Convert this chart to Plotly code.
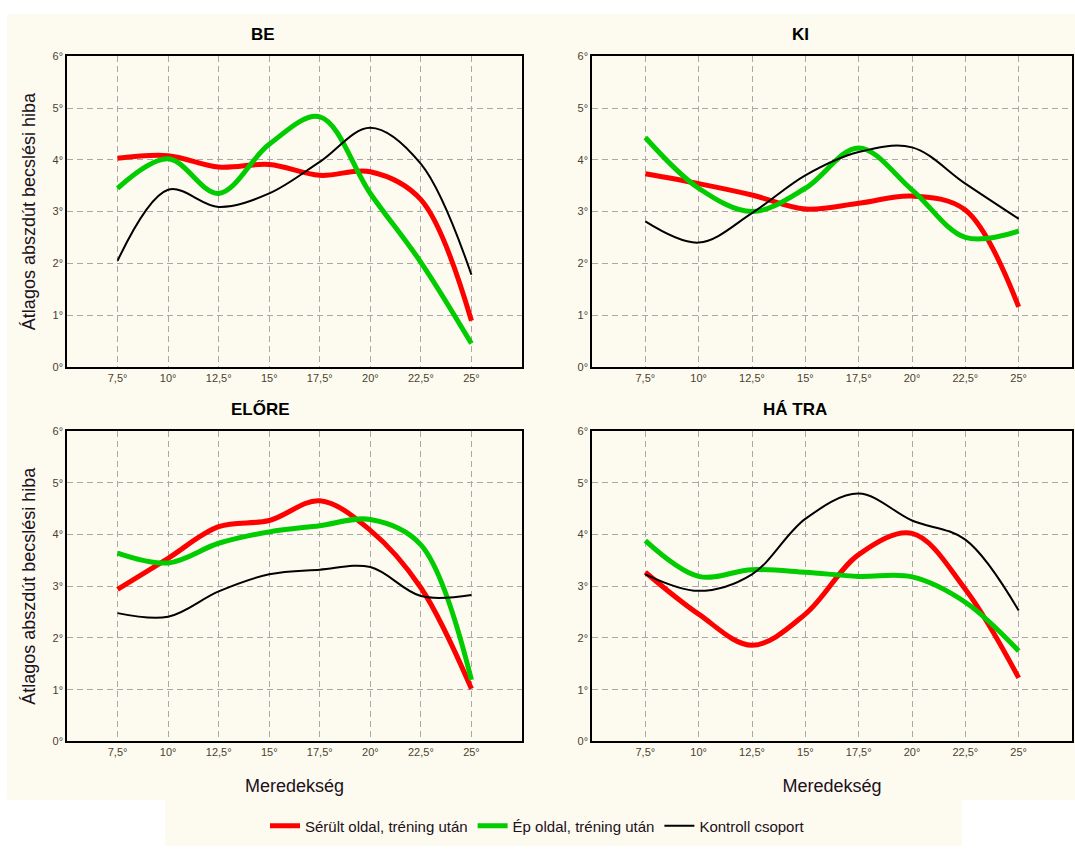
import plotly.graph_objects as go

x_vals = [7.5, 10, 12.5, 15, 17.5, 20, 22.5, 25]
x_ticklabels = ["7,5°", "10°", "12,5°", "15°", "17,5°", "20°", "22,5°", "25°"]
y_ticks = [0, 1, 2, 3, 4, 5, 6]
y_ticklabels = ["0°", "1°", "2°", "3°", "4°", "5°", "6°"]

series_names = ["Sérült oldal, tréning után", "Ép oldal, tréning után", "Kontroll csoport"]
panel_titles = ["BE", "KI", "ELŐRE", "HÁ TRA"]

be_red = [4.03, 4.08, 3.86, 3.91, 3.70, 3.77, 3.23, 0.89]
be_green = [3.45, 4.02, 3.35, 4.30, 4.83, 3.35, 2.02, 0.45]
be_black = [2.05, 3.42, 3.09, 3.35, 3.96, 4.62, 3.92, 1.78]

ki_red = [3.73, 3.54, 3.32, 3.05, 3.16, 3.30, 3.03, 1.16]
ki_green = [4.43, 3.45, 3.00, 3.45, 4.23, 3.42, 2.50, 2.62]
ki_black = [2.81, 2.40, 2.97, 3.70, 4.15, 4.24, 3.54, 2.86]

elore_red = [2.94, 3.54, 4.15, 4.27, 4.65, 4.08, 2.97, 1.02]
elore_green = [3.64, 3.45, 3.83, 4.05, 4.17, 4.29, 3.80, 1.19]
elore_black = [2.48, 2.41, 2.90, 3.23, 3.32, 3.37, 2.81, 2.83]

hatra_red = [3.27, 2.46, 1.86, 2.46, 3.61, 4.02, 2.94, 1.23]
hatra_green = [3.88, 3.19, 3.32, 3.27, 3.19, 3.18, 2.69, 1.75]
hatra_black = [3.23, 2.91, 3.23, 4.30, 4.79, 4.27, 3.90, 2.53]

panels = [
    (be_red, be_green, be_black),
    (ki_red, ki_green, ki_black),
    (elore_red, elore_green, elore_black),
    (hatra_red, hatra_green, hatra_black),
]

colors = ["#FF0000", "#00CC00", "#000000"]
widths = [5, 5, 2]

W, H = 1075, 852
CREAM = "#FDFBEF"
FONT = "Liberation Sans, Arial, sans-serif"

# pixel boxes of plot areas: (left, right, top, bottom)
boxes = [
    (67, 522, 51, 366),
    (592, 1072, 51, 366),
    (67, 522, 431, 746),
    (592, 1072, 431, 746),
]

fig = go.Figure()
layout = dict(
    width=W, height=H,
    margin=dict(l=0, r=0, t=0, b=0),
    paper_bgcolor="white",
    plot_bgcolor="white",
    font=dict(family=FONT, color="#000000"),
    showlegend=True,
)

annotations = []
shapes = [
    dict(type="rect", xref="paper", yref="paper", x0=7 / W, x1=1, y0=1 - 805 / H, y1=1 - 8 / H,
         fillcolor=CREAM, line=dict(width=0), layer="below"),
    dict(type="rect", xref="paper", yref="paper", x0=165 / W, x1=962 / W, y0=0, y1=1 - 800 / H,
         fillcolor=CREAM, line=dict(width=0), layer="below"),
]

for i, (box, data) in enumerate(zip(boxes, panels)):
    l, r, t, b = box
    xa = "xaxis" if i == 0 else f"xaxis{i+1}"
    ya = "yaxis" if i == 0 else f"yaxis{i+1}"
    xr = "x" if i == 0 else f"x{i+1}"
    yr = "y" if i == 0 else f"y{i+1}"
    layout[xa] = dict(
        domain=[l / W, r / W], anchor=yr, range=[5, 27.5],
        tickmode="array", tickvals=x_vals, ticktext=x_ticklabels,
        showgrid=True, gridcolor="#A8A8A8", griddash="6px,4px", gridwidth=1,
        showline=True, linecolor="black", linewidth=1.5, mirror=True,
        ticks="", zeroline=False,
        tickfont=dict(size=11, color="#4A4030", family=FONT),
    )
    layout[ya] = dict(
        domain=[1 - b / H, 1 - t / H], anchor=xr, range=[0, 6],
        tickmode="array", tickvals=y_ticks, ticktext=y_ticklabels,
        showgrid=True, gridcolor="#A8A8A8", griddash="6px,4px", gridwidth=1,
        showline=True, linecolor="black", linewidth=1.5, mirror=True,
        ticks="", zeroline=False,
        tickfont=dict(size=11, color="#4A4030", family=FONT),
    )
    if i in (2, 3):
        layout[xa]["title"] = dict(text="Meredekség", font=dict(size=18, color="#201020", family=FONT), standoff=22)
    if i in (0, 2):
        layout[ya]["title"] = dict(text="Átlagos abszdút becslési hiba", font=dict(size=18, color="#201020", family=FONT), standoff=12)
    for k in range(3):
        fig.add_trace(go.Scatter(
            x=x_vals, y=data[k], mode="lines",
            line=dict(color=colors[k], width=widths[k], shape="spline", smoothing=1.0),
            name=series_names[k], legendgroup=series_names[k], showlegend=(i == 0),
            xaxis=xr, yaxis=yr,
        ))

title_pos = [(263, 29), (800, 29), (260, 409), (795, 409)]
for (tx, ty), txt in zip(title_pos, panel_titles):
    annotations.append(dict(
        text=f"<b>{txt}</b>", x=tx / W, y=1 - ty / H, xref="paper", yref="paper",
        showarrow=False, xanchor="center", yanchor="middle",
        font=dict(size=17, color="#000000", family=FONT),
    ))

layout["annotations"] = annotations
layout["shapes"] = shapes
layout["legend"] = dict(
    orientation="h", x=0.5, xanchor="center", y=1 - 815 / H, yanchor="top",
    bgcolor="rgba(0,0,0,0)", font=dict(size=15, color="#201020", family=FONT),
    itemwidth=30, tracegroupgap=0,
)
fig.update_layout(**layout)
fig.write_html("out.html")
